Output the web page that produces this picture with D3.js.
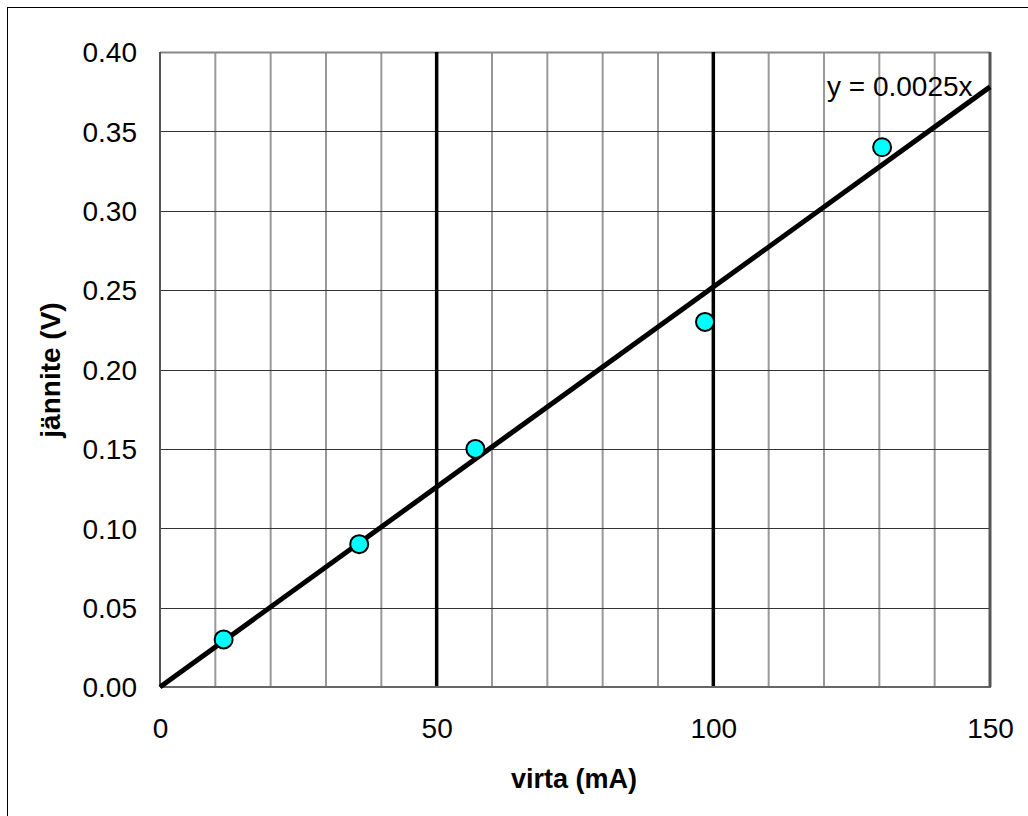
<!DOCTYPE html>
<html><head><meta charset="utf-8">
<script src="https://cdn.jsdelivr.net/npm/d3@7"></script>
<style>body{margin:0;background:#fff}svg{display:block}text{font-family:"Liberation Sans",Arial,sans-serif}</style>
</head><body>
<svg id="c" width="1028" height="816"></svg>
<script>
const currentMA = [11.5, 36, 57, 98.5, 130.5];
const voltageV = [0.03, 0.09, 0.15, 0.23, 0.34];
const xTicks = [0, 50, 100, 150];
const yTicks = [0, 0.05, 0.10, 0.15, 0.20, 0.25, 0.30, 0.35, 0.40];
const xMinorGrid = d3.range(0, 151, 10);
const xMajorGrid = [50, 100];
const trendLabel = "y = 0.0025x";
const xTitle = "virta (mA)";
const yTitle = "jännite (V)";

// least-squares slope through the origin (Excel trendline with intercept 0)
const slope = d3.sum(currentMA, (v, i) => v * voltageV[i]) / d3.sum(currentMA, v => v * v);

const svg = d3.select("#c");
const L = 160, R = 990, T = 52, B = 687;
const x = d3.scaleLinear().domain([0, 150]).range([L, R]);
const y = d3.scaleLinear().domain([0, 0.4]).range([B, T]);
const FONT = '"Liberation Sans",Arial,sans-serif';

// outer border
svg.append("rect").attr("x", 7.5).attr("y", 7.5).attr("width", 1060).attr("height", 900)
  .attr("fill", "none").attr("stroke", "#000").attr("stroke-width", 1);

svg.append("rect").attr("x", L).attr("y", T).attr("width", R - L).attr("height", B - T).attr("fill", "#fff");

// vertical minor grid
svg.append("g").selectAll("line").data(xMinorGrid.filter(v => v > 0 && v < 150 && !xMajorGrid.includes(v)))
  .join("line").attr("x1", d => x(d)).attr("x2", d => x(d)).attr("y1", T).attr("y2", B)
  .attr("stroke", "#999").attr("stroke-width", 2);

// horizontal grid
svg.append("g").selectAll("line").data(yTicks.filter(v => v > 0))
  .join("line").attr("x1", L).attr("x2", R).attr("y1", d => Math.round(y(d)) + 0.5).attr("y2", d => Math.round(y(d)) + 0.5)
  .attr("stroke", d => d >= 0.4 ? "#888" : "#333").attr("stroke-width", d => d >= 0.4 ? 2 : 1);

// major vertical lines
svg.append("g").selectAll("line").data(xMajorGrid)
  .join("line").attr("x1", d => x(d)).attr("x2", d => x(d)).attr("y1", T).attr("y2", B)
  .attr("stroke", "#000").attr("stroke-width", 3.5);

// plot frame
svg.append("line").attr("x1", L).attr("x2", L).attr("y1", T).attr("y2", B).attr("stroke", "#555").attr("stroke-width", 2);
svg.append("line").attr("x1", L).attr("x2", R + 1).attr("y1", B).attr("y2", B).attr("stroke", "#666").attr("stroke-width", 2);
svg.append("line").attr("x1", R).attr("x2", R).attr("y1", T).attr("y2", B).attr("stroke", "#555").attr("stroke-width", 3);

// x axis
const xAxis = d3.axisBottom(x).tickValues(xTicks).tickSize(0).tickPadding(0).tickFormat(d3.format("d"));
const gx = svg.append("g").attr("transform", `translate(0,${B})`).call(xAxis);
gx.select(".domain").remove();
gx.attr("font-size", null).attr("font-family", null);
gx.selectAll("text").attr("dy", null).attr("y", 51).attr("fill", "#000")
  .style("font-size", "28px").style("font-family", FONT);

// y axis
const yAxis = d3.axisLeft(y).tickValues(yTicks).tickSize(0).tickPadding(0).tickFormat(d3.format(".2f"));
const gy = svg.append("g").attr("transform", `translate(${L},0)`).call(yAxis);
gy.select(".domain").remove();
gy.attr("font-size", null).attr("font-family", null);
gy.selectAll("text").attr("x", -23).attr("dy", "0.35em").attr("fill", "#000")
  .style("font-size", "28px").style("font-family", FONT);

// trendline
svg.append("line").attr("x1", x(0)).attr("y1", y(0)).attr("x2", x(150)).attr("y2", y(slope * 150))
  .attr("stroke", "#000").attr("stroke-width", 5);

// points
svg.append("g").selectAll("circle").data(currentMA.map((v, i) => [v, voltageV[i]]))
  .join("circle").attr("cx", d => x(d[0])).attr("cy", d => y(d[1])).attr("r", 9)
  .attr("fill", "#00FFFF").attr("stroke", "#000").attr("stroke-width", 2);

// trend label
svg.append("text").attr("x", 827).attr("y", 96).style("font-size", "28px").attr("fill", "#000").text(trendLabel);

// titles
svg.append("text").attr("x", 574).attr("y", 788).attr("text-anchor", "middle").style("font-size", "27px")
  .attr("font-weight", "bold").text(xTitle);
svg.append("text").attr("transform", "translate(60,370) rotate(-90)").attr("text-anchor", "middle")
  .style("font-size", "28px").attr("font-weight", "bold").text(yTitle);
</script>
</body></html>
